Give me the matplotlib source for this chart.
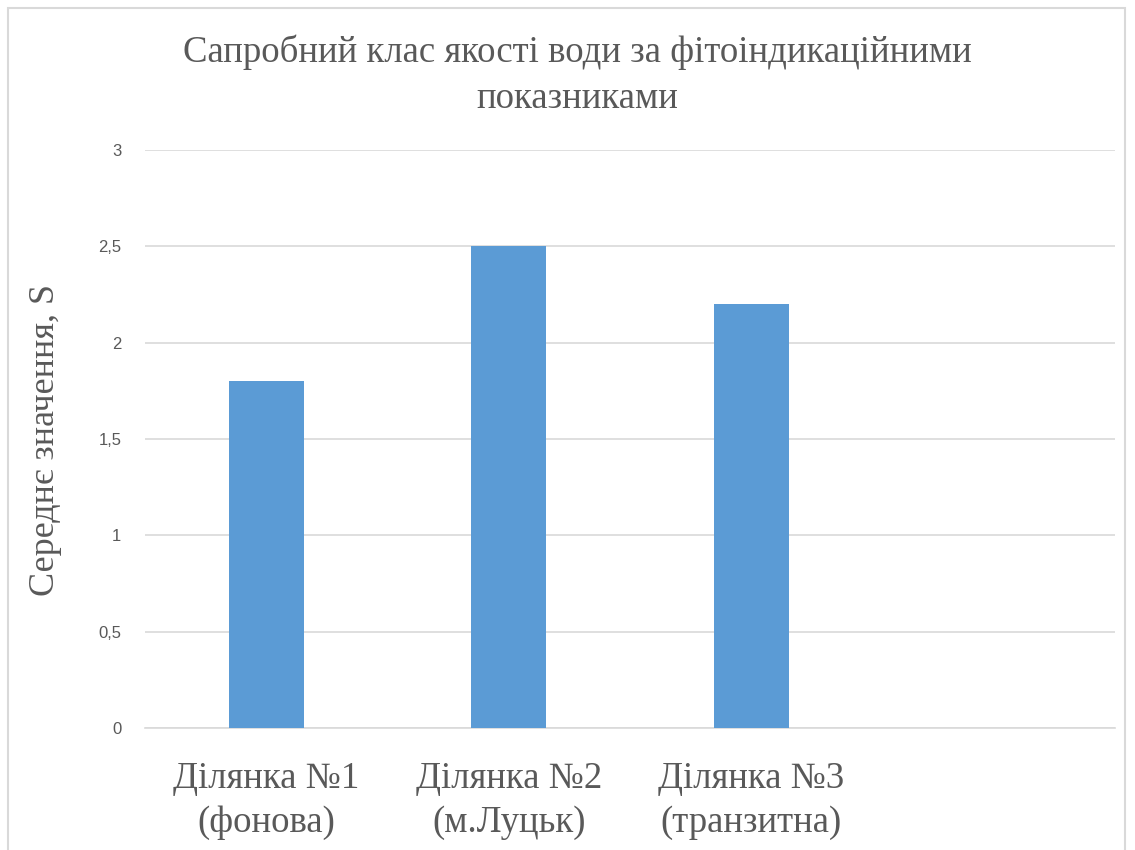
import matplotlib.pyplot as plt
from matplotlib.patches import Rectangle

# дані
categories = ['Ділянка №1\n(фонова)', 'Ділянка №2\n(м.Луцьк)', 'Ділянка №3\n(транзитна)', '']
values = [1.8, 2.5, 2.2, 0]
yticks = [0, 0.5, 1, 1.5, 2, 2.5, 3]
ytick_labels = ['0', '0,5', '1', '1,5', '2', '2,5', '3']

fig = plt.figure(figsize=(11.35, 8.5), dpi=100)
ax = fig.add_axes([145 / 1135, 1 - 728 / 850, 970 / 1135, 578 / 850])

# рамка діаграми
fig.patches.append(Rectangle((8 / 1135, -0.05), 1117 / 1135, 1.05 - 8 / 850,
                             transform=fig.transFigure, fill=False,
                             edgecolor='#D9D9D9', linewidth=1.5))

x = range(len(categories))
ax.bar(x, values, width=0.31, color='#5B9BD5', zorder=3)

ax.set_xlim(-0.5, len(categories) - 0.5)
ax.set_ylim(0, 3)
ax.set_yticks(yticks)
ax.set_yticklabels(ytick_labels, fontsize=12, color='#595959', family='Liberation Sans')
ax.set_xticks(list(x))
ax.set_xticklabels(categories, fontsize=26.5, color='#595959', family='Liberation Serif',
                   linespacing=1.35)
ax.tick_params(axis='both', length=0)
ax.tick_params(axis='y', pad=17)
ax.tick_params(axis='x', pad=24)

ax.grid(axis='y', color='#D9D9D9', linewidth=1.2, zorder=0)
for s in ['top', 'right', 'left']:
    ax.spines[s].set_visible(False)
ax.spines['bottom'].set_color('#D9D9D9')
ax.spines['bottom'].set_linewidth(1.2)

ax.set_ylabel('Середнє значення, S', fontsize=26, color='#595959',
              family='Liberation Serif')
ax.yaxis.set_label_coords(-(145 - 62) / 970, (850 - 440 - 122) / 578)

fig.text(577 / 1135, 1 - 75 / 850,
         'Сапробний клас якості води за фітоіндикаційними\nпоказниками',
         ha='center', va='center', fontsize=26.5, color='#595959',
         family='Liberation Serif', linespacing=1.45)

fig.savefig('out.png', dpi=100)
